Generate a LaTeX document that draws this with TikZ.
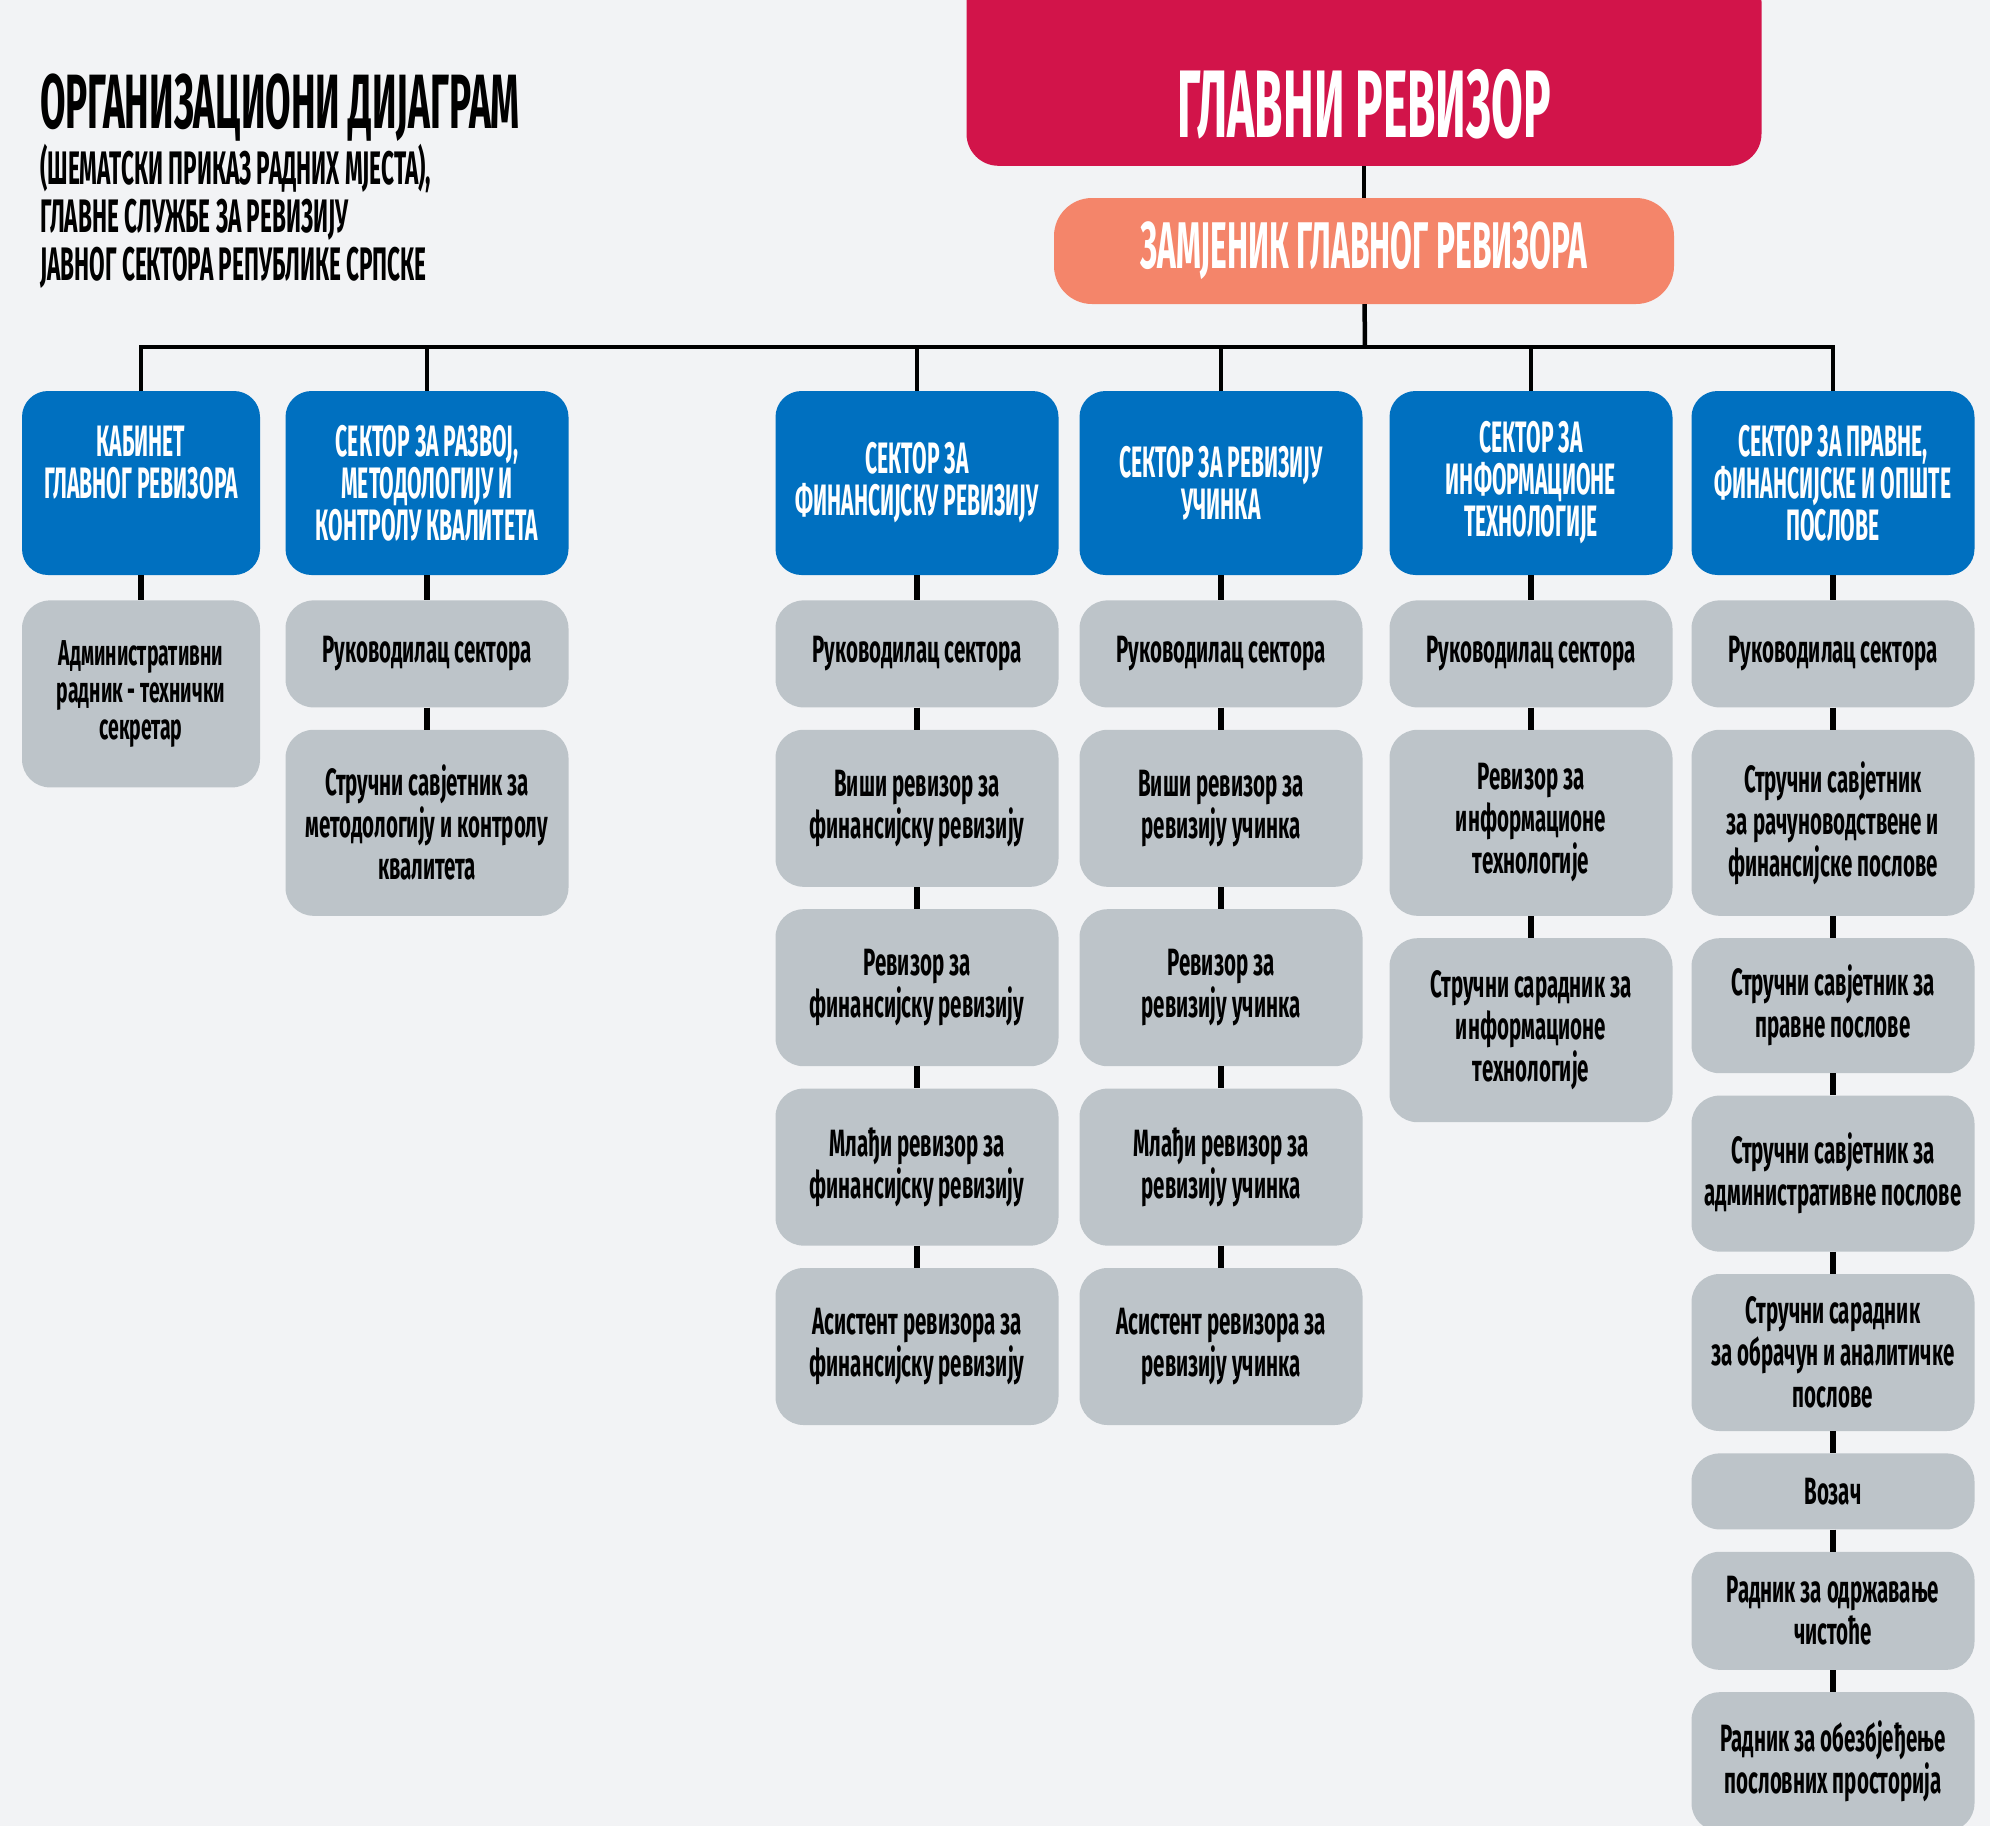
\documentclass[tikz,border=0pt]{standalone}
\usepackage{fontspec}
\newfontfamily\capsfont{Fira Sans}[FakeStretch=0.48]
\newfontfamily\bodyfont{Fira Sans}[FakeStretch=0.54]
\usetikzlibrary{positioning}
\definecolor{backdrop}{HTML}{F2F3F5}
\definecolor{chiefred}{HTML}{D2144A}
\definecolor{deputyorange}{HTML}{F4856A}
\definecolor{sectorblue}{HTML}{0070C0}
\definecolor{postgray}{HTML}{BDC4C9}
\tikzset{%
	title/.style    = {inner sep=0pt, font=\capsfont\bfseries\fontsize{77}{80}\selectfont}, % heading
	subtitle/.style = {inner sep=0pt, align=left, font=\capsfont\bfseries\fontsize{47}{48}\selectfont},
	chief/.style    = {fill=chiefred, rounded corners=32pt, minimum width=795pt, inner ysep=0pt, text height=168pt, text depth=28pt, text=white, font=\capsfont\bfseries\fontsize{96}{100}\selectfont},
	deputy/.style   = {fill=deputyorange, rounded corners=38pt, minimum width=620pt, minimum height=106pt, text=white, font=\capsfont\bfseries\fontsize{66}{70}\selectfont},
	sector/.style   = {fill=sectorblue, rounded corners=26pt, minimum width=283pt, minimum height=184pt, inner xsep=4pt, align=center, text=white, font=\capsfont\bfseries\fontsize{44}{42}\selectfont},
	post/.style     = {fill=postgray, rounded corners=28pt, minimum width=283pt, inner xsep=4pt, align=center, font=\bodyfont\bfseries\fontsize{38}{42}\selectfont},
	bus/.style      = {line width=4.5pt},
	link/.style     = {line width=5.5pt},
}
\begin{document}
\begin{tikzpicture}[x=1pt, y=-1pt, node distance=22pt]
		\clip (0,0) rectangle (1990,1826);
		\fill[backdrop] (0,0) rectangle (1990,1826);
		% heading
		\node[title, anchor=base west] (title) at (40,128) {ОРГАНИЗАЦИОНИ ДИЈАГРАМ};
		\node[subtitle, anchor=north west] (subtitle) at (40,144) {(ШЕМАТСКИ ПРИКАЗ РАДНИХ МЈЕСТА),\\ГЛАВНЕ СЛУЖБЕ ЗА РЕВИЗИЈУ\\ЈАВНОГ СЕКТОРА РЕПУБЛИКЕ СРПСКЕ};
		% top of the chart
		\node[chief, anchor=south] (gr) at (1364,166) {ГЛАВНИ РЕВИЗОР};
		\node[deputy] (zgr) at (1364,251) {ЗАМЈЕНИК ГЛАВНОГ РЕВИЗОРА};
		\coordinate (bus) at (1365,347);
		% sectors
		\node[sector, minimum width=238pt, text depth=42pt] (kab) at (141,483) {КАБИНЕТ\\ГЛАВНОГ РЕВИЗОРА};
		\node[sector] (razvoj) at (427,483) {СЕКТОР ЗА РАЗВОЈ,\\МЕТОДОЛОГИЈУ И\\КОНТРОЛУ КВАЛИТЕТА};
		\node[sector] (fin) at (917,483) {СЕКТОР ЗА\\ФИНАНСИЈСКУ РЕВИЗИЈУ};
		\node[sector] (ucinak) at (1221,483) {СЕКТОР ЗА РЕВИЗИЈУ\\УЧИНКА};
		\node[sector] (it) at (1531,483) {СЕКТОР ЗА\\ИНФОРМАЦИОНЕ\\ТЕХНОЛОГИЈЕ};
		\node[sector] (pravne) at (1833,483) {СЕКТОР ЗА ПРАВНЕ,\\ФИНАНСИЈСКЕ И ОПШТЕ\\ПОСЛОВЕ};
		% kabinet
		\node[post, minimum width=238pt, minimum height=187pt, below=25pt of kab, font=\bodyfont\bfseries\fontsize{36}{37}\selectfont] (kab1) {Административни\\радник - технички\\секретар};
		% razvoj
		\node[post, minimum height=107pt, below=25pt of razvoj] (razvoj1) {Руководилац сектора};
		\node[post, minimum height=186pt, below=of razvoj1] (razvoj2) {Стручни савјетник за\\методологију и контролу\\квалитета};
		% finansijska revizija
		\node[post, minimum height=107pt, below=25pt of fin] (fin1) {Руководилац сектора};
		\node[post, minimum height=157pt, below=of fin1] (fin2) {Виши ревизор за\\финансијску ревизију};
		\node[post, minimum height=157pt, below=of fin2] (fin3) {Ревизор за\\финансијску ревизију};
		\node[post, minimum height=157pt, below=of fin3] (fin4) {Млађи ревизор за\\финансијску ревизију};
		\node[post, minimum height=157pt, below=of fin4] (fin5) {Асистент ревизора за\\финансијску ревизију};
		% revizija ucinka
		\node[post, minimum height=107pt, below=25pt of ucinak] (ucinak1) {Руководилац сектора};
		\node[post, minimum height=157pt, below=of ucinak1] (ucinak2) {Виши ревизор за\\ревизију учинка};
		\node[post, minimum height=157pt, below=of ucinak2] (ucinak3) {Ревизор за\\ревизију учинка};
		\node[post, minimum height=157pt, below=of ucinak3] (ucinak4) {Млађи ревизор за\\ревизију учинка};
		\node[post, minimum height=157pt, below=of ucinak4] (ucinak5) {Асистент ревизора за\\ревизију учинка};
		% informacione tehnologije
		\node[post, minimum height=107pt, below=25pt of it] (it1) {Руководилац сектора};
		\node[post, minimum height=186pt, below=of it1] (it2) {Ревизор за\\информационе\\технологије};
		\node[post, minimum height=184pt, below=of it2] (it3) {Стручни сарадник за\\информационе\\технологије};
		% pravne, finansijske i opste poslove
		\node[post, minimum height=107pt, below=25pt of pravne] (pravne1) {Руководилац сектора};
		\node[post, minimum height=186pt, below=of pravne1] (pravne2) {Стручни савјетник\\за рачуноводствене и\\финансијске послове};
		\node[post, minimum height=135pt, below=of pravne2] (pravne3) {Стручни савјетник за\\правне послове};
		\node[post, minimum height=156pt, below=of pravne3] (pravne4) {Стручни савјетник за\\административне послове};
		\node[post, minimum height=157pt, below=of pravne4] (pravne5) {Стручни сарадник\\за обрачун и аналитичке\\послове};
		\node[post, minimum height=76pt, below=of pravne5] (pravne6) {Возач};
		\node[post, minimum height=118pt, below=of pravne6] (pravne7) {Радник за одржавање\\чистоће};
		\node[post, minimum height=139pt, below=of pravne7] (pravne8) {Радник за обезбјеђење\\пословних просторија};
		% lines
		\draw[bus] (gr) -- (zgr);
		\draw[bus] (zgr) -- (bus);
		\draw[bus] (kab) |- (bus) -| (pravne);
		\draw[bus] (razvoj) -- (razvoj |- bus);
		\draw[bus] (fin) -- (fin |- bus);
		\draw[bus] (ucinak) -- (ucinak |- bus);
		\draw[bus] (it) -- (it |- bus);
		\draw[link] (kab) -- (kab1);
		\draw[link] (razvoj) -- (razvoj1);
		\draw[link] (razvoj1) -- (razvoj2);
		\draw[link] (fin) -- (fin1);
		\draw[link] (fin1) -- (fin2);
		\draw[link] (fin2) -- (fin3);
		\draw[link] (fin3) -- (fin4);
		\draw[link] (fin4) -- (fin5);
		\draw[link] (ucinak) -- (ucinak1);
		\draw[link] (ucinak1) -- (ucinak2);
		\draw[link] (ucinak2) -- (ucinak3);
		\draw[link] (ucinak3) -- (ucinak4);
		\draw[link] (ucinak4) -- (ucinak5);
		\draw[link] (it) -- (it1);
		\draw[link] (it1) -- (it2);
		\draw[link] (it2) -- (it3);
		\draw[link] (pravne) -- (pravne1);
		\draw[link] (pravne1) -- (pravne2);
		\draw[link] (pravne2) -- (pravne3);
		\draw[link] (pravne3) -- (pravne4);
		\draw[link] (pravne4) -- (pravne5);
		\draw[link] (pravne5) -- (pravne6);
		\draw[link] (pravne6) -- (pravne7);
		\draw[link] (pravne7) -- (pravne8);
\end{tikzpicture}
\end{document}
